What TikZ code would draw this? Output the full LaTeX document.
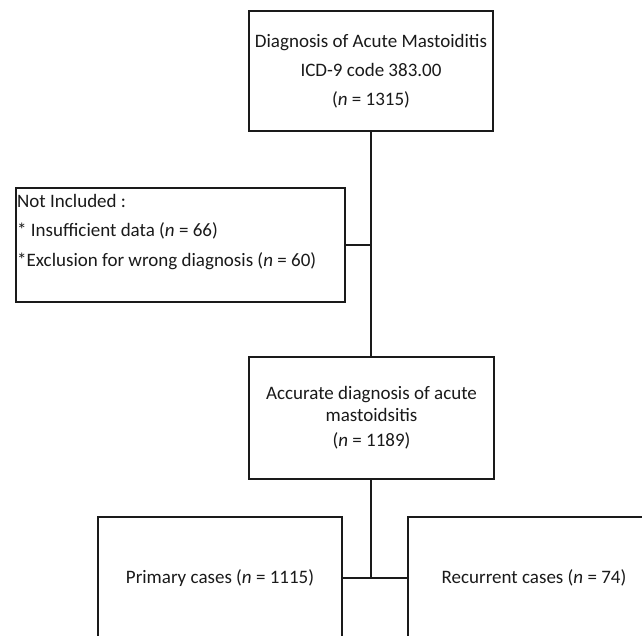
\documentclass[tikz,border=0pt]{standalone}
\usepackage{fontspec}
\setmainfont{Carlito}
\usetikzlibrary{calc}
\definecolor{ink}{HTML}{1A1A1A}
\begin{document}
\begin{tikzpicture}[x=1pt,y=-1pt,
  box/.style={draw=ink, line width=2pt, rectangle, inner sep=0pt, align=center,
    text=ink, font=\fontsize{19}{22}\selectfont},
  txt/.style={inner sep=0pt, align=left, text=ink, font=\fontsize{19}{22}\selectfont},
  link/.style={draw=ink, line width=2pt}]
\useasboundingbox (0,0) rectangle (642,635);
\clip (0,0) rectangle (642,635);
\fill[white] (0,0) rectangle (642,635);
\node[box, minimum width=244pt, minimum height=120pt] (top) at (371,71)
  {Diagnosis of Acute Mastoiditis\\[7pt]ICD-9 code 383.00\\[7pt](\textit{n} = 1315)};
\node[box, minimum width=329pt, minimum height=114pt] (notinc) at (180.5,245) {};
\node[txt, anchor=north west] (notinctxt) at ($(notinc.north west)+(2,7)$)
  {Not Included :\\[7.5pt]* Insufficient data (\textit{n} = 66)\\[7.5pt]*Exclusion for wrong diagnosis (\textit{n} = 60)};
\node[box, minimum width=245pt, minimum height=122pt] (mid) at (371.5,418)
  {Accurate diagnosis of acute\\mastoidsitis\\[3pt](\textit{n} = 1189)};
\node[box, minimum width=244pt, minimum height=122pt] (prim) at (220,578)
  {Primary cases (\textit{n} = 1115)};
\node[box, minimum width=252pt, minimum height=122pt] (rec) at (534,578)
  {Recurrent cases (\textit{n} = 74)};
\draw[link] (top.south) -- (top.south |- mid.north);
\draw[link] (notinc.east) -- (notinc.east -| top.south);
\coordinate (split) at (top.south |- prim.east);
\draw[link] (mid.south -| top.south) -- (split);
\draw[link] (prim.east) -- (rec.west);
\end{tikzpicture}
\end{document}
